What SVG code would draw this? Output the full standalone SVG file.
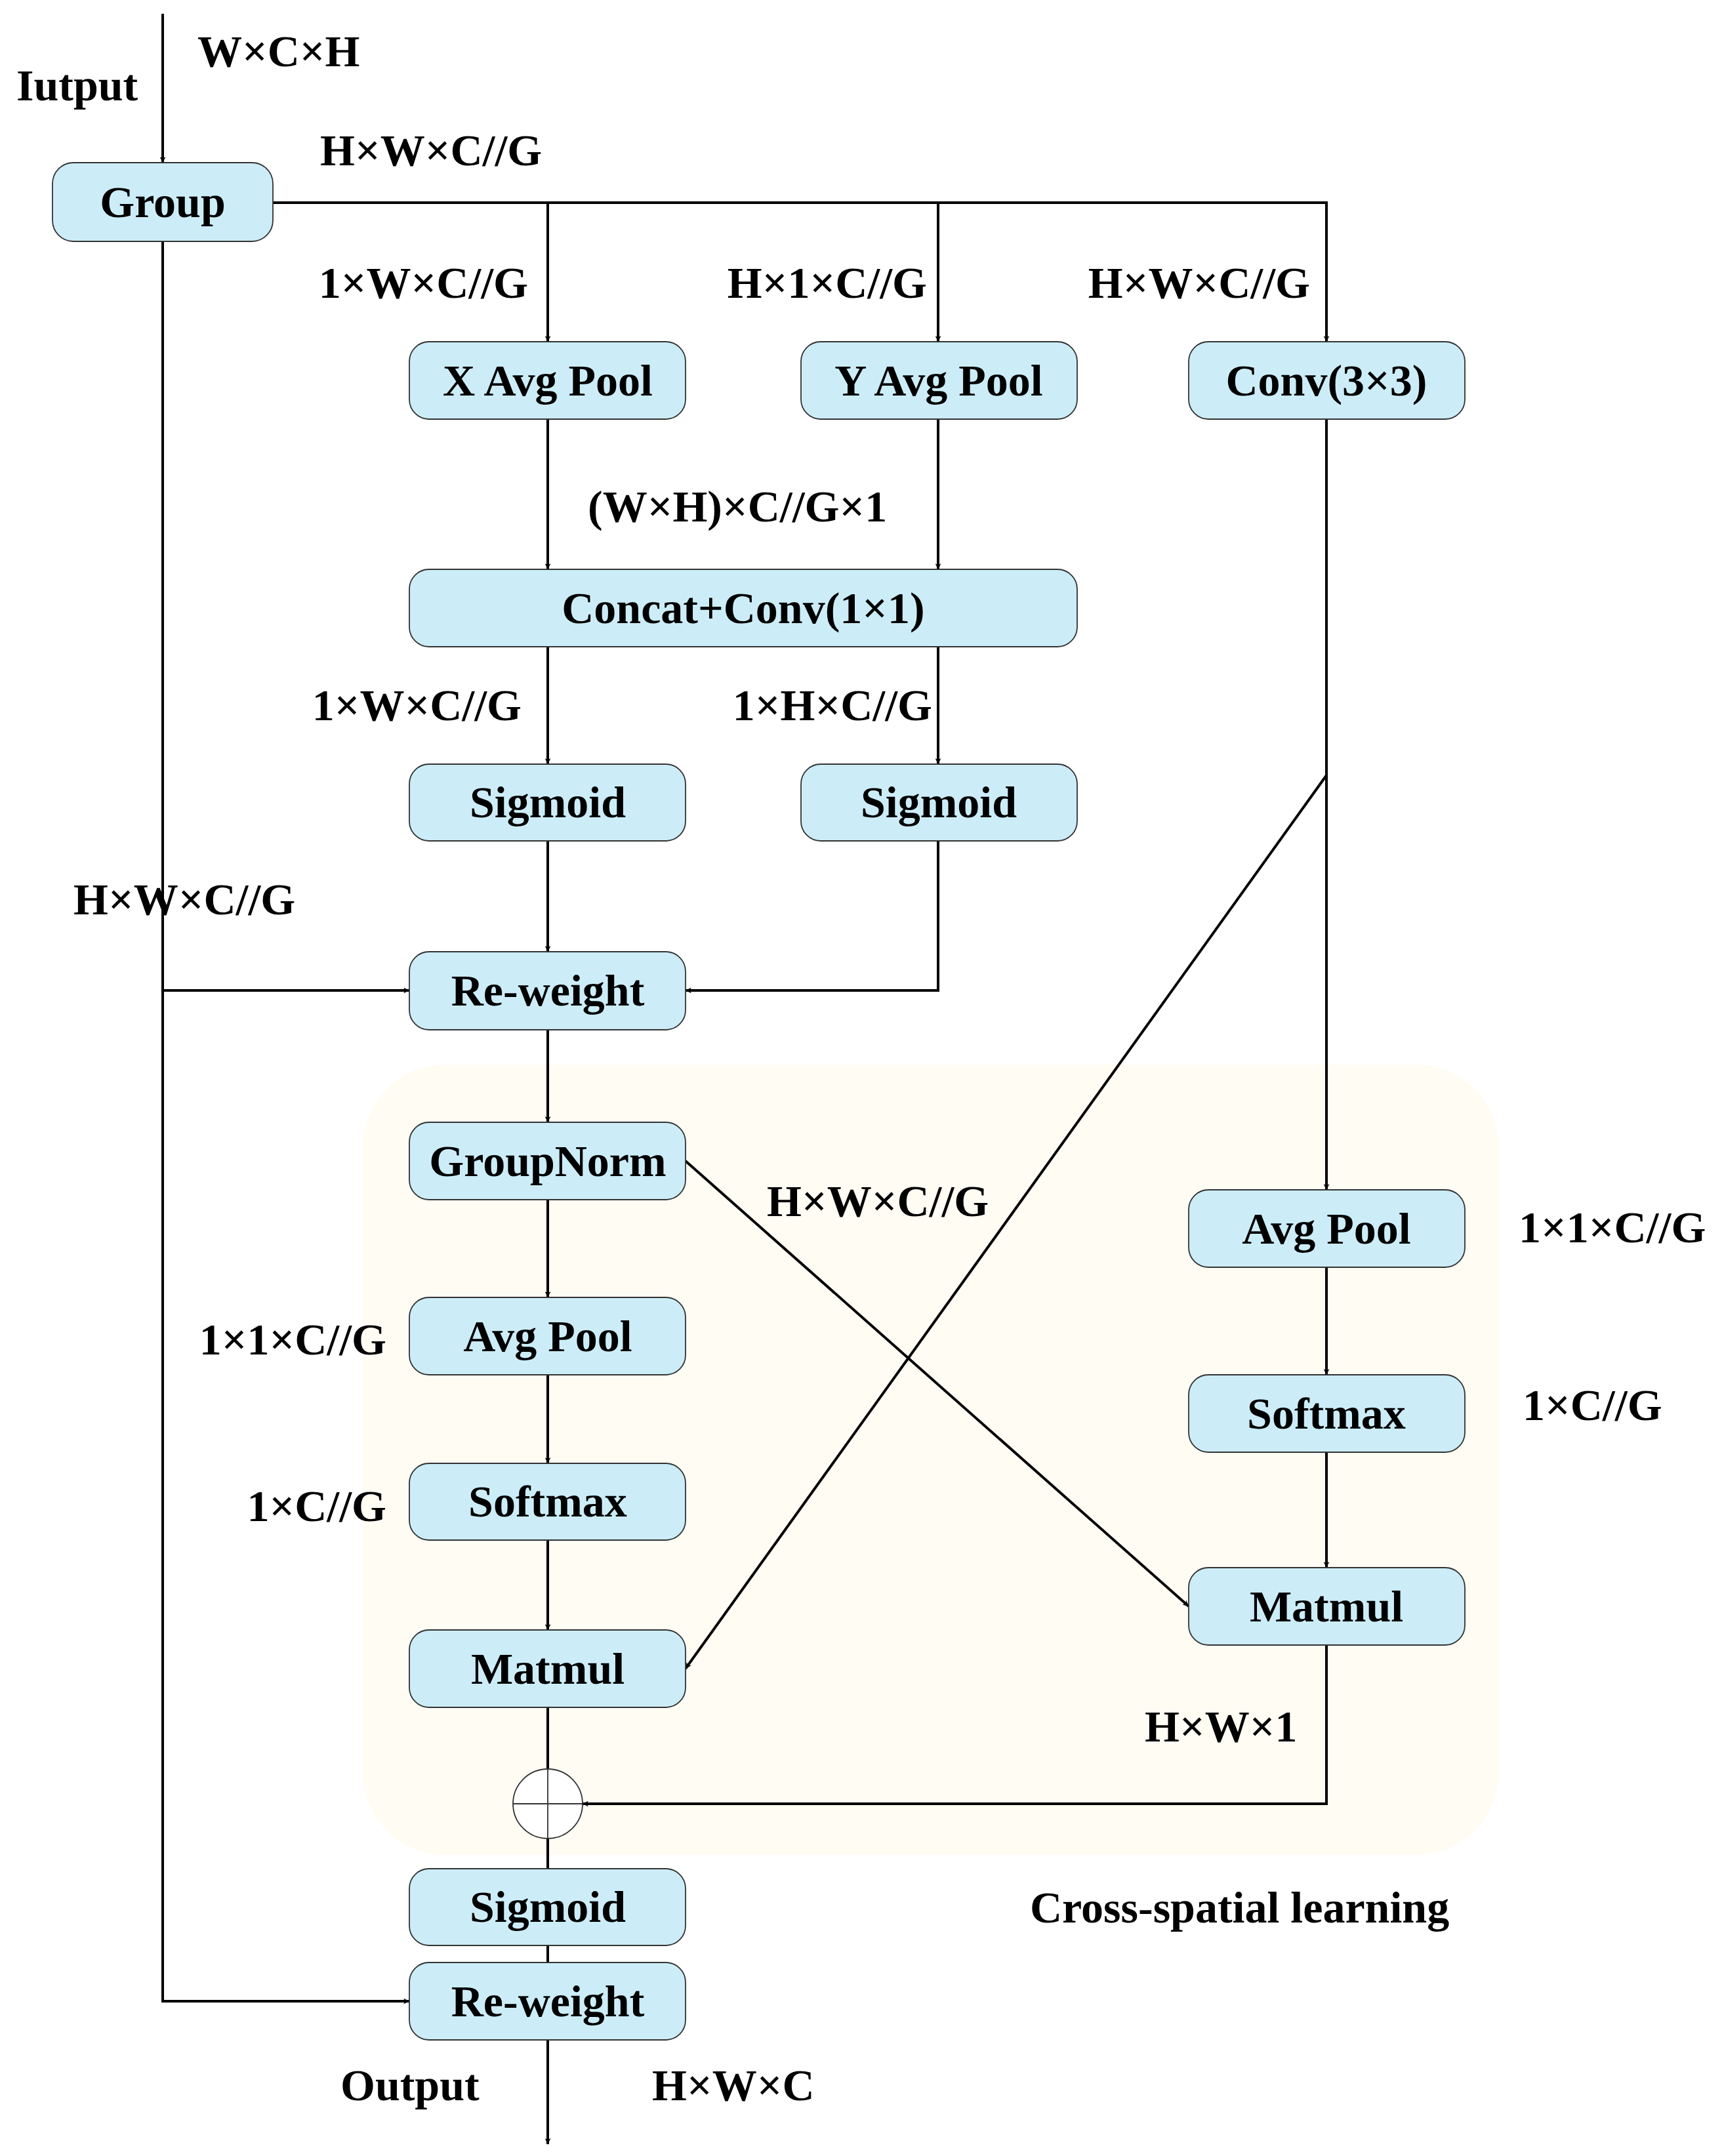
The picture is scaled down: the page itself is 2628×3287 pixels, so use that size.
<svg xmlns="http://www.w3.org/2000/svg" width="2628" height="3287" viewBox="0 0 2628 3287">
<style>
.n{fill:#ccedf8;stroke:#333;stroke-width:1.8}
.t{font-family:"Liberation Serif",serif;font-weight:bold;font-size:68px;fill:#000}
.m{text-anchor:middle}
.e{text-anchor:end}
.c{fill:none;stroke:#000;stroke-width:4}
</style>
<defs>
<marker id="a" viewBox="0 0 10 10" refX="10" refY="5" markerWidth="9" markerHeight="9" markerUnits="userSpaceOnUse" orient="auto"><path d="M0,0L10,5L0,10L3,5z" fill="#000"/></marker>
</defs>
<marker/>
<rect x="553" y="1623" width="1732" height="1205" rx="126" fill="#fffcf4"/>
<g id="connectors">
<path class="c" d="M248,21V248" marker-end="url(#a)" style="marker-end:url(#a)"/>
<path class="c" d="M416,309H2022V521" marker-end="url(#a)"/>
<path class="c" d="M835,309V521" marker-end="url(#a)"/>
<path class="c" d="M1430,309V521" marker-end="url(#a)"/>
<path class="c" d="M835,639V868" marker-end="url(#a)"/>
<path class="c" d="M1430,639V868" marker-end="url(#a)"/>
<path class="c" d="M835,986V1165" marker-end="url(#a)"/>
<path class="c" d="M1430,986V1165" marker-end="url(#a)"/>
<path class="c" d="M835,1282V1451" marker-end="url(#a)"/>
<path class="c" d="M1430,1282V1510H1045" marker-end="url(#a)"/>
<path class="c" d="M248,368V3051H624" marker-end="url(#a)"/>
<path class="c" d="M248,1510H624" marker-end="url(#a)"/>
<path class="c" d="M835,1570V1711" marker-end="url(#a)"/>
<path class="c" d="M835,1829V1978" marker-end="url(#a)"/>
<path class="c" d="M835,2096V2231" marker-end="url(#a)"/>
<path class="c" d="M835,2348V2485" marker-end="url(#a)"/>
<path class="c" d="M835,2603V2849"/>
<path class="c" d="M835,2966V2992"/>
<path class="c" d="M835,3110V3269" marker-end="url(#a)"/>
<path class="c" d="M2022,639V1814" marker-end="url(#a)"/>
<path class="c" d="M2022,1932V2096" marker-end="url(#a)"/>
<path class="c" d="M2022,2214V2390" marker-end="url(#a)"/>
<path class="c" d="M2022,2508V2750H888" marker-end="url(#a)"/>
<path class="c" d="M2022,1182L1045,2544" marker-end="url(#a)"/>
<path class="c" d="M1045,1770L1812,2449" marker-end="url(#a)"/>
</g>
<g id="plus"><circle cx="835" cy="2750" r="53" fill="#fff" stroke="#333" stroke-width="1.8"/><path d="M782,2750H888M835,2697V2803" stroke="#333" stroke-width="1.8"/></g>
<g id="group"><rect class="n" x="80" y="248" width="336" height="120" rx="32"/><text class="t m" x="248" y="331">Group</text></g>
<g id="xavg"><rect class="n" x="624" y="521" width="421" height="118" rx="30"/><text class="t m" x="835" y="603">X Avg Pool</text></g>
<g id="yavg"><rect class="n" x="1221" y="521" width="421" height="118" rx="30"/><text class="t m" x="1431" y="603">Y Avg Pool</text></g>
<g id="conv3"><rect class="n" x="1812" y="521" width="421" height="118" rx="30"/><text class="t m" x="2022" y="603">Conv(3×3)</text></g>
<g id="concat"><rect class="n" x="624" y="868" width="1018" height="118" rx="30"/><text class="t m" x="1133" y="950">Concat+Conv(1×1)</text></g>
<g id="sig1"><rect class="n" x="624" y="1165" width="421" height="117" rx="30"/><text class="t m" x="835" y="1246">Sigmoid</text></g>
<g id="sig2"><rect class="n" x="1221" y="1165" width="421" height="117" rx="30"/><text class="t m" x="1431" y="1246">Sigmoid</text></g>
<g id="rw1"><rect class="n" x="624" y="1451" width="421" height="119" rx="30"/><text class="t m" x="835" y="1533">Re-weight</text></g>
<g id="gn"><rect class="n" x="624" y="1711" width="421" height="118" rx="30"/><text class="t m" x="835" y="1793">GroupNorm</text></g>
<g id="avgl"><rect class="n" x="624" y="1978" width="421" height="118" rx="30"/><text class="t m" x="835" y="2060">Avg Pool</text></g>
<g id="softl"><rect class="n" x="624" y="2231" width="421" height="117" rx="30"/><text class="t m" x="835" y="2312">Softmax</text></g>
<g id="matl"><rect class="n" x="624" y="2485" width="421" height="118" rx="30"/><text class="t m" x="835" y="2567">Matmul</text></g>
<g id="avgr"><rect class="n" x="1812" y="1814" width="421" height="118" rx="30"/><text class="t m" x="2022" y="1896">Avg Pool</text></g>
<g id="softr"><rect class="n" x="1812" y="2096" width="421" height="118" rx="30"/><text class="t m" x="2022" y="2178">Softmax</text></g>
<g id="matr"><rect class="n" x="1812" y="2390" width="421" height="118" rx="30"/><text class="t m" x="2022" y="2472">Matmul</text></g>
<g id="sig3"><rect class="n" x="624" y="2849" width="421" height="117" rx="30"/><text class="t m" x="835" y="2930">Sigmoid</text></g>
<g id="rw2"><rect class="n" x="624" y="2992" width="421" height="118" rx="30"/><text class="t m" x="835" y="3074">Re-weight</text></g>
<g id="labels">
<text class="t" x="25" y="153">Iutput</text>
<text class="t" x="301" y="101">W×C×H</text>
<text class="t" x="488" y="252">H×W×C//G</text>
<text class="t e" x="805" y="454">1×W×C//G</text>
<text class="t e" x="1413" y="454">H×1×C//G</text>
<text class="t e" x="1997" y="454">H×W×C//G</text>
<text class="t" x="896" y="795">(W×H)×C//G×1</text>
<text class="t e" x="795" y="1098">1×W×C//G</text>
<text class="t e" x="1421" y="1098">1×H×C//G</text>
<text class="t" x="112" y="1394">H×W×C//G</text>
<text class="t" x="1169" y="1854">H×W×C//G</text>
<text class="t e" x="589" y="2065">1×1×C//G</text>
<text class="t e" x="589" y="2319">1×C//G</text>
<text class="t" x="2315" y="1894">1×1×C//G</text>
<text class="t" x="2321" y="2165">1×C//G</text>
<text class="t" x="1745" y="2655">H×W×1</text>
<text class="t" x="1570" y="2931">Cross-spatial learning</text>
<text class="t" x="519" y="3202">Output</text>
<text class="t" x="994" y="3202">H×W×C</text>
</g>
</svg>
